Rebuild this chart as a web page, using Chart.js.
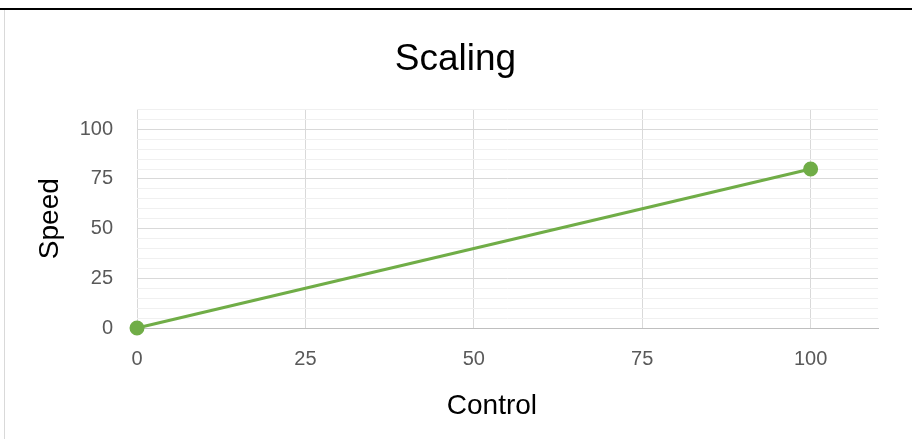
<!DOCTYPE html>
<html>
<head>
<meta charset="utf-8">
<script src="https://cdn.jsdelivr.net/npm/chart.js@4.4.0/dist/chart.umd.min.js"></script>
<style>
  body { margin: 0; background: #fff; }
  #frameTop { position: absolute; left: 0; top: 8px; width: 912px; border-top: 2px solid #000; }
  #frameLeft { position: absolute; left: 4px; top: 10px; height: 429px; border-left: 1px solid #d9d9d9; }
  #wrap { position: absolute; left: 0; top: 0; width: 912px; height: 439px; }
</style>
</head>
<body>
<div id="frameTop"></div>
<div id="frameLeft"></div>
<div id="wrap"><canvas id="scalingChart"></canvas></div>
<script>
// Chart values
const controlValues = [0, 100];
const speedValues = [0, 80];
const xTickValues = [0, 25, 50, 75, 100];
const yLabelValues = [0, 25, 50, 75, 100];

const points = controlValues.map((c, i) => ({ x: c, y: speedValues[i] }));

const tickFont = { family: 'Liberation Sans, Arial, sans-serif', size: 20 };
const titleFamily = 'Liberation Sans, Arial, sans-serif';

const ctx = document.getElementById('scalingChart').getContext('2d');
new Chart(ctx, {
    type: 'line',
    data: {
        datasets: [{
            label: 'Speed',
            data: points,
            borderColor: '#70ad47',
            backgroundColor: '#70ad47',
            borderWidth: 3,
            pointRadius: 6,
            pointHoverRadius: 6,
            fill: false,
            clip: false
        }]
    },
    options: {
        responsive: true,
        maintainAspectRatio: false,
        animation: false,
        layout: { padding: { left: 33, right: 34, top: 0, bottom: 12 } },
        plugins: {
            legend: { display: false },
            tooltip: { enabled: false },
            title: {
                display: true,
                text: 'Scaling',
                color: '#000',
                font: { family: titleFamily, size: 37, weight: 'normal' },
                padding: { top: 38, bottom: 27 }
            }
        },
        scales: {
            x: {
                type: 'linear',
                min: 0,
                max: 110,
                afterBuildTicks: (axis) => {
                    axis.ticks = xTickValues.map(v => ({ value: v }));
                },
                afterFit: (axis) => { axis.height = 99; },
                ticks: {
                    color: '#595959',
                    font: tickFont,
                    padding: 19,
                    maxRotation: 0
                },
                grid: { color: '#d9d9d9', drawTicks: false },
                border: { color: '#bfbfbf', width: 1 },
                title: {
                    display: true,
                    // trailing spaces nudge the title a bit left, like the original
                    text: 'Control\u00a0\u00a0\u00a0\u00a0',
                    color: '#000',
                    font: { family: titleFamily, size: 28 },
                    padding: { top: 18, bottom: 4 }
                }
            },
            y: {
                min: 0,
                max: 110,
                afterFit: (axis) => { axis.width = 104; },
                ticks: {
                    stepSize: 5,
                    autoSkip: false,
                    color: '#595959',
                    font: tickFont,
                    padding: 24,
                    callback: (v) => yLabelValues.includes(v) ? v : ''
                },
                grid: {
                    drawTicks: false,
                    color: (c) => (c.tick && c.tick.value % 25 === 0) ? '#d9d9d9' : '#f0f0f0'
                },
                border: { display: false },
                title: {
                    display: true,
                    text: 'Speed',
                    color: '#000',
                    font: { family: titleFamily, size: 28 },
                    padding: { top: 0, bottom: 12 }
                }
            }
        }
    }
});
</script>
</body>
</html>
